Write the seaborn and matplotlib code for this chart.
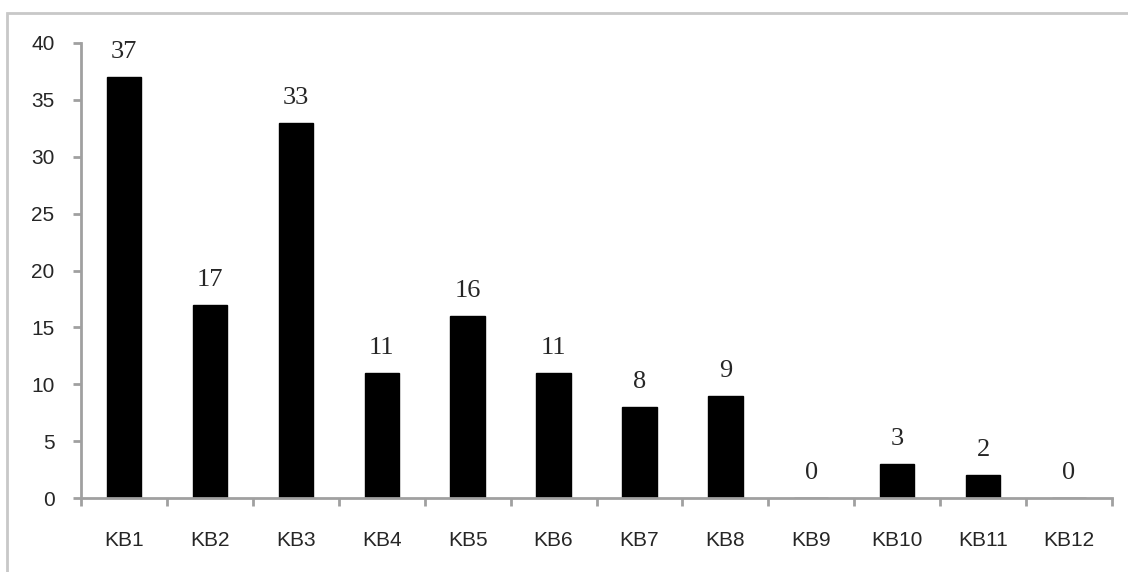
import numpy as np
import matplotlib
matplotlib.use("Agg")
import matplotlib.pyplot as plt
import pandas as pd
import seaborn as sns
from matplotlib.patches import Rectangle

categories = ['KB1', 'KB2', 'KB3', 'KB4', 'KB5', 'KB6', 'KB7', 'KB8', 'KB9', 'KB10', 'KB11', 'KB12']
values = [37, 17, 33, 11, 16, 11, 8, 9, 0, 3, 2, 0]
y_ticks = [0, 5, 10, 15, 20, 25, 30, 35, 40]

df = pd.DataFrame({'cat': categories, 'val': values})

sns.set_style('white')
plt.rcParams['font.family'] = ['Liberation Sans', 'DejaVu Sans']

W, H = 1128, 572
fig = plt.figure(figsize=(W / 100, H / 100), dpi=100)
ax = fig.add_axes([81 / W, (H - 498) / H, (1112 - 81) / W, (498 - 43) / H])

# outer gray frame
fig.patches.append(Rectangle((7 / W, -0.05), 1.1, (H - 13) / H + 0.05,
                             transform=fig.transFigure, fill=False,
                             edgecolor='#c8c8c8', linewidth=2))

sns.barplot(data=df, x='cat', y='val', color='black', width=0.4,
            saturation=1, ax=ax, edgecolor='black')

ax.bar_label(ax.containers[0], labels=[str(v) for v in values], padding=10,
             fontsize=19, family=['Liberation Serif', 'DejaVu Serif'])

gray = '#a0a0a0'
ax.set_ylim(0, 40)
ax.set_xlim(-0.5, len(categories) - 0.5)
ax.set_yticks(y_ticks)
ax.set_xticks(np.arange(len(categories)))
ax.set_xticklabels(categories)
ax.set_xticks(np.arange(-0.5, len(categories)), minor=True)
ax.tick_params(axis='x', which='major', bottom=True, length=0, pad=24, labelsize=15)
ax.tick_params(axis='x', which='minor', bottom=True, length=6, width=2, color=gray, direction='out')
ax.tick_params(axis='y', left=True, length=6, width=2, color=gray, direction='out', pad=13, labelsize=15)
ax.set_xlabel('')
ax.set_ylabel('')

for s in ['top', 'right']:
    ax.spines[s].set_visible(False)
for s in ['left', 'bottom']:
    ax.spines[s].set_color(gray)
    ax.spines[s].set_linewidth(2)

fig.savefig('out.png', dpi=100)
